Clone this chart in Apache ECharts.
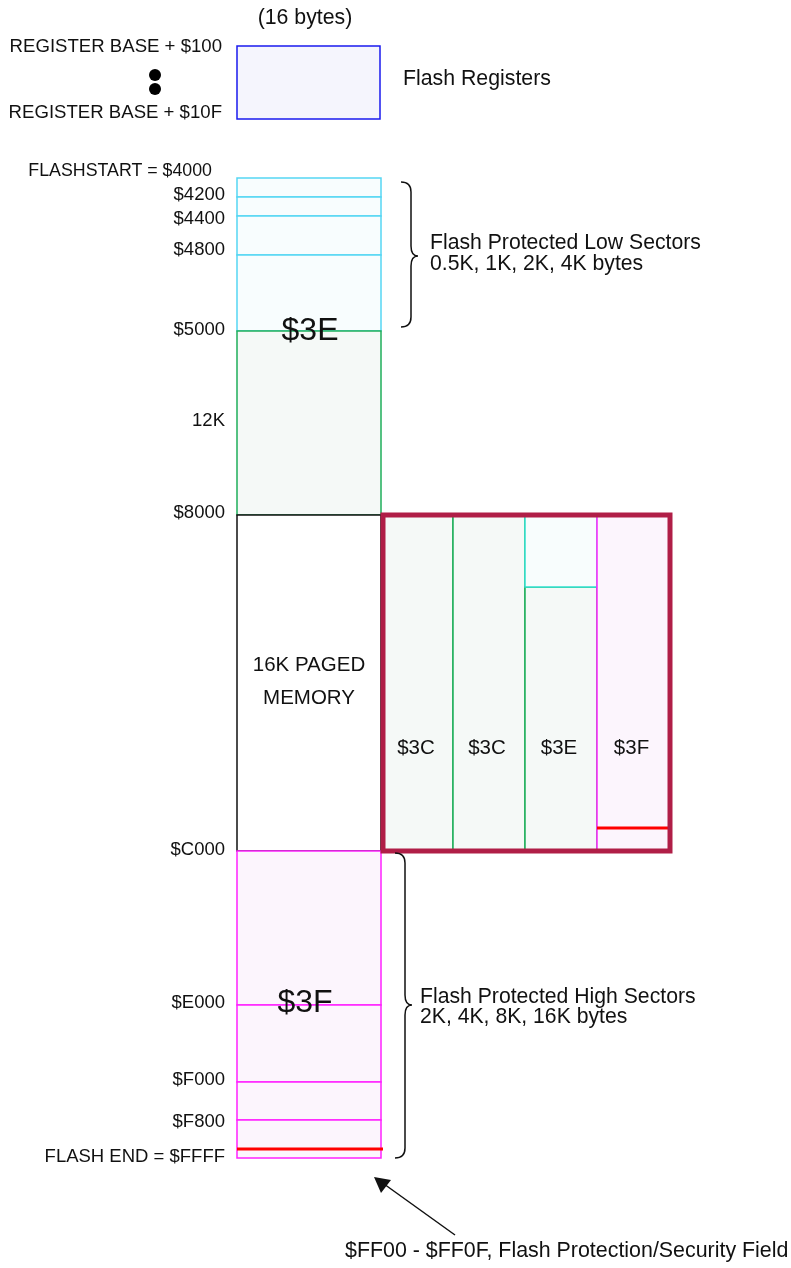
<!DOCTYPE html>
<html><head><meta charset="utf-8">
<script src="https://cdn.jsdelivr.net/npm/echarts@6/dist/echarts.min.js"></script>
<style>html,body{margin:0;padding:0;background:#fff}#c{width:791px;height:1268px}</style>
</head><body><div id="c"></div>
<script>
// ---------------- data ----------------
const registerLabels = ['REGISTER BASE + $100', 'REGISTER BASE + $10F'];
const registerSizeLabel = '(16 bytes)';
const registerName = 'Flash Registers';
// memory boundaries (schematic rows of the map, top to bottom)
const boundaryLabels = ['FLASHSTART = $4000', '$4200', '$4400', '$4800', '$5000', '$8000', '$C000', '$E000', '$F000', '$F800', 'FLASH END = $FFFF'];
const boundaryRows = [178, 197, 216, 255, 331, 515, 851, 1005, 1082, 1120, 1158];
const segmentKinds = ['low', 'low', 'low', 'low', 'mid', 'paged', 'high', 'high', 'high', 'high'];
const securityRow = 1149;           // $FF00
const pageLabels = ['$3C', '$3C', '$3E', '$3F'];
const pageKinds = ['mid', 'mid', 'mid', 'high'];
const page3ESplitRow = 587;
const page3FSecurityRow = 828;
const lowSectorText = ['Flash Protected Low Sectors', '0.5K, 1K, 2K, 4K bytes'];
const highSectorText = ['Flash Protected High Sectors', '2K, 4K, 8K, 16K bytes'];
const pagedText = ['16K PAGED', 'MEMORY'];
const midSizeText = '12K';
const bigPageLabels = ['$3E', '$3F'];
const securityNote = '$FF00 - $FF0F, Flash Protection/Security Field';

// ---------------- layout / style ----------------
const FONT = '"Liberation Sans", Arial, Helvetica, sans-serif';
const COL = [237, 381];
const PAGE_X = [383, 453, 525, 597, 670];
const LABEL_X = 224;
const LABEL_DY = [-7, -2, 3, -5, -1, -2, -1, -2, -2, 2, -1];
const STYLE = {
  low:   { stroke: '#55d6f3', fill: '#f8fdfe' },
  mid:   { stroke: '#1fae5b', fill: '#f5f9f7' },
  paged: { stroke: '#111111', fill: '#ffffff' },
  high:  { stroke: '#ff22ff', fill: '#fcf5fd' },
  reg:   { stroke: '#1a1aee', fill: '#f5f5fd' },
  aqua:  { stroke: '#30e0d0', fill: '#f8fdfd' }
};
const MAROON = '#b01e47';
const RED = '#ff0000';

const chart = echarts.init(document.getElementById('c'), null, { renderer: 'canvas' });

function rectEl(api, x0, y0, x1, y1, st, lw) {
  const a = api.coord([x0, y0]), b = api.coord([x1, y1]);
  return { type: 'rect', shape: { x: a[0], y: a[1], width: b[0] - a[0], height: b[1] - a[1] },
    style: { fill: st.fill, stroke: st.stroke, lineWidth: lw || 1.5 } };
}
function lineEl(api, x0, y0, x1, y1, color, lw) {
  const a = api.coord([x0, y0]), b = api.coord([x1, y1]);
  return { type: 'line', shape: { x1: a[0], y1: a[1], x2: b[0], y2: b[1] }, style: { stroke: color, lineWidth: lw } };
}
function textEl(api, x, y, text, size, align, vAlign) {
  const p = api.coord([x, y]);
  return { type: 'text', x: p[0], y: p[1], style: { text: text, fill: '#111', fontSize: size, fontFamily: FONT,
    align: align || 'left', verticalAlign: vAlign || 'middle' } };
}
function braceEl(api, xTop, xMid, xTip, yTop, yTip, yBot) {
  const P = (x, y) => api.coord([x, y]);
  const a = P(xTop, yTop), c1 = P(xMid, yTop), b = P(xMid, yTop + 10);
  const d = P(xMid, yTip - 10), c2 = P(xMid, yTip), t = P(xTip, yTip);
  const e = P(xMid, yTip + 10), f = P(xMid, yBot - 10), c3 = P(xMid, yBot), g = P(xTop, yBot);
  const pd = `M${a[0]} ${a[1]} Q${c1[0]} ${c1[1]} ${b[0]} ${b[1]} L${d[0]} ${d[1]} Q${c2[0]} ${c2[1]} ${t[0]} ${t[1]} ` +
             `Q${c2[0]} ${c2[1]} ${e[0]} ${e[1]} L${f[0]} ${f[1]} Q${c3[0]} ${c3[1]} ${g[0]} ${g[1]}`;
  return { type: 'path', shape: { pathData: pd }, style: { fill: null, stroke: '#111', lineWidth: 1.5 } };
}

const segData = segmentKinds.map((k, i) => [COL[0], boundaryRows[i], COL[1], boundaryRows[i + 1], i]);
const pageData = pageLabels.map((l, i) => [PAGE_X[i], boundaryRows[5], PAGE_X[i + 1], boundaryRows[6], i]);
const labelData = boundaryRows.map((r, i) => [LABEL_X, r, i]);

chart.setOption({
  animation: false,
  grid: { left: 0, right: 0, top: 0, bottom: 0 },
  xAxis: { type: 'value', min: 0, max: 791, show: false },
  yAxis: { type: 'value', min: 0, max: 1268, inverse: true, show: false },
  series: [
    { // main flash column
      type: 'custom', data: segData, encode: { x: [0, 2], y: [1, 3] },
      renderItem: function (params, api) {
        const i = api.value(4);
        const st = STYLE[segmentKinds[i]];
        return rectEl(api, api.value(0), api.value(1), api.value(2), api.value(3), st, 1.5);
      }
    },
    { // paged window columns
      type: 'custom', data: pageData, encode: { x: [0, 2], y: [1, 3] },
      renderItem: function (params, api) {
        const i = api.value(4);
        const x0 = api.value(0), y0 = api.value(1), x1 = api.value(2), y1 = api.value(3);
        const children = [];
        if (pageLabels[i] === '$3E') {
          children.push(rectEl(api, x0, page3ESplitRow, x1, y1, STYLE.mid, 1.5));
          children.push(rectEl(api, x0, y0, x1, page3ESplitRow, STYLE.aqua, 1.5));
        } else {
          children.push(rectEl(api, x0, y0, x1, y1, STYLE[pageKinds[i]], 1.5));
        }
        if (pageLabels[i] === '$3F') children.push(lineEl(api, x0, page3FSecurityRow, x1, page3FSecurityRow, RED, 3));
        children.push(textEl(api, (x0 + x1) / 2 - 2, 748, pageLabels[i], 20.5, 'center'));
        return { type: 'group', children: children };
      }
    },
    { // boundary labels
      type: 'custom', data: labelData, encode: { x: 0, y: 1 },
      renderItem: function (params, api) {
        const i = api.value(2);
        const first = i === 0;
        return textEl(api, first ? 212 : api.value(0) + 1, api.value(1) + LABEL_DY[i], boundaryLabels[i], first ? 17.8 : 18.5, 'right');
      }
    },
    { // annotations
      type: 'custom', data: [[0, 0]], encode: { x: 0, y: 1 },
      renderItem: function (params, api) {
        const ch = [];
        // register block
        ch.push(rectEl(api, 237, 46, 380, 119, STYLE.reg, 1.5));
        ch.push(textEl(api, 305, 18, registerSizeLabel, 21.3, 'center'));
        ch.push(textEl(api, 222, 47, registerLabels[0], 18.6, 'right'));
        ch.push(textEl(api, 222, 113, registerLabels[1], 18.6, 'right'));
        [75, 89].forEach(y => { const p = api.coord([155, y]); ch.push({ type: 'circle', shape: { cx: p[0], cy: p[1], r: 6 }, style: { fill: '#000' } }); });
        ch.push(textEl(api, 403, 79, registerName, 21.3, 'left'));
        // security line in main column
        ch.push(lineEl(api, COL[0], securityRow, COL[1] + 2, securityRow, RED, 3));
        // paged window outline
        const a = api.coord([PAGE_X[0], boundaryRows[5]]), b = api.coord([PAGE_X[4], boundaryRows[6]]);
        ch.push({ type: 'rect', shape: { x: a[0], y: a[1], width: b[0] - a[0], height: b[1] - a[1] }, style: { fill: null, stroke: MAROON, lineWidth: 5 } });
        // in-column texts
        ch.push(textEl(api, 310, 331, bigPageLabels[0], 32, 'center'));
        ch.push(textEl(api, 305, 1003, bigPageLabels[1], 32, 'center'));
        ch.push(textEl(api, 225, 421, midSizeText, 18.5, 'right'));
        ch.push(textEl(api, 309, 665, pagedText[0], 20.5, 'center'));
        ch.push(textEl(api, 309, 698, pagedText[1], 20.5, 'center'));
        // braces
        ch.push(braceEl(api, 401, 411, 418, 182, 256, 327));
        ch.push(braceEl(api, 395, 405, 412, 853, 1005, 1158));
        ch.push(textEl(api, 430, 243, lowSectorText[0], 21.2, 'left'));
        ch.push(textEl(api, 430, 264, lowSectorText[1], 21.2, 'left'));
        ch.push(textEl(api, 420, 997, highSectorText[0], 21.2, 'left'));
        ch.push(textEl(api, 420, 1017, highSectorText[1], 21.2, 'left'));
        // arrow
        ch.push(lineEl(api, 455, 1235, 384, 1184, '#111', 1.5));
        const t = api.coord([374, 1177]), h1 = api.coord([381, 1193]), h2 = api.coord([391, 1180]);
        ch.push({ type: 'polygon', shape: { points: [t, h1, h2] }, style: { fill: '#111' } });
        ch.push(textEl(api, 345, 1251, securityNote, 21.4, 'left'));
        return { type: 'group', children: ch };
      }
    }
  ]
});
</script></body></html>
